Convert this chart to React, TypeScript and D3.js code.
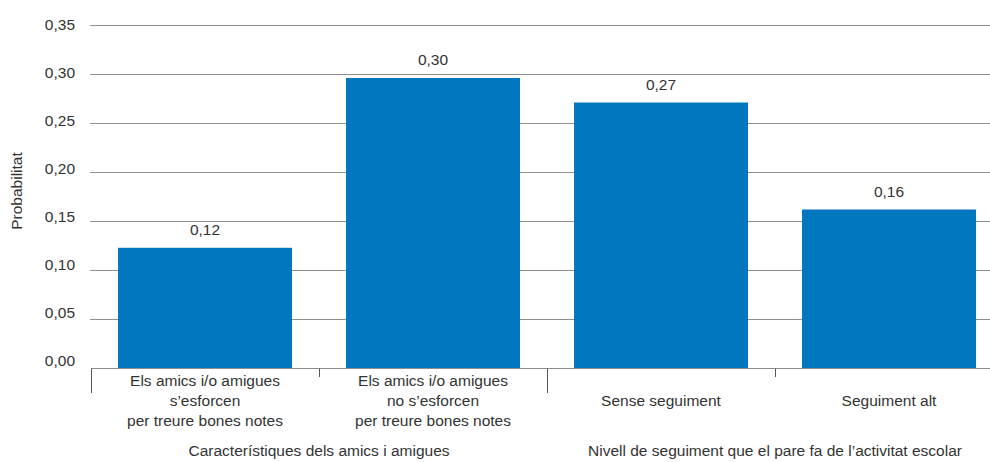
import React from "react";
import * as d3 from "d3";

const categories = ["c1", "c2", "c3", "c4"];
const categoryLabels = [
  ["Els amics i/o amigues", "s\u2019esforcen", "per treure bones notes"],
  ["Els amics i/o amigues", "no s\u2019esforcen", "per treure bones notes"],
  ["Sense seguiment"],
  ["Seguiment alt"],
];
const values = [0.123, 0.296, 0.271, 0.162];
const valueLabels = ["0,12", "0,30", "0,27", "0,16"];
const groupLabels = [
  "Caracter\u00edstiques dels amics i amigues",
  "Nivell de seguiment que el pare fa de l\u2019activitat escolar",
];
const groupSizes = [2, 2];
const yTicks = [0, 0.05, 0.1, 0.15, 0.2, 0.25, 0.3, 0.35];

const W = 990;
const H = 462;
const FONT = "'Liberation Sans', Arial, Helvetica, sans-serif";
const FS = 15.5;
const TEXT = "#333333";
const GRID = "#8e8e8e";
const BAR = "#0077be";

export default function App() {
  const x = d3
    .scaleBand<string>()
    .domain(categories)
    .range([91, 1003])
    .paddingInner(0.237)
    .paddingOuter(0.1185);
  const y = d3.scaleLinear().domain([0, 0.35]).range([368.5, 25]);
  // tick labels sit slightly above their grid lines, with slightly tighter spacing
  const yLab = d3.scaleLinear().domain([0, 0.35]).range([366, 30]);
  const step = x.step();
  const left = 91;
  const fmt = (v: number) => d3.format(".2f")(v).replace(".", ",");

  const groupBounds: { start: number; end: number; label: string }[] = [];
  let idx = 0;
  groupSizes.forEach((n, i) => {
    const start = left + idx * step;
    const end = left + (idx + n) * step;
    groupBounds.push({ start, end, label: groupLabels[i] });
    idx += n;
  });

  return (
    <svg
      width={W}
      height={H}
      style={{ position: "absolute", left: 0, top: 0, background: "#fff" }}
      fontFamily={FONT}
    >
      {yTicks.slice(1).map((t) => (
        <line
          key={t}
          x1={90}
          x2={W}
          y1={Math.round(y(t)) + 0.5}
          y2={Math.round(y(t)) + 0.5}
          stroke={GRID}
          strokeWidth={1.2}
        />
      ))}
      {yTicks.map((t) => (
        <text
          key={"yl" + t}
          x={75}
          y={yLab(t)}
          textAnchor="end"
          fontSize={FS}
          fill={TEXT}
        >
          {fmt(t)}
        </text>
      ))}
      <text
        transform={`translate(22,191) rotate(-90)`}
        textAnchor="middle"
        fontSize={FS}
        fill={TEXT}
      >
        Probabilitat
      </text>
      {categories.map((c, i) => (
        <rect
          key={c}
          x={x(c)}
          y={y(values[i])}
          width={x.bandwidth()}
          height={y(0) - y(values[i])}
          fill={BAR}
        />
      ))}
      {categories.map((c, i) => (
        <text
          key={"v" + c}
          x={(x(c) as number) + x.bandwidth() / 2}
          y={y(values[i]) - 13}
          textAnchor="middle"
          fontSize={FS}
          fill={TEXT}
        >
          {valueLabels[i]}
        </text>
      ))}
      <line x1={91} x2={W} y1={368.5} y2={368.5} stroke={GRID} strokeWidth={1.2} />
      {groupBounds.map((g, i) => (
        <line
          key={"gs" + i}
          x1={Math.round(g.start) + 0.5}
          x2={Math.round(g.start) + 0.5}
          y1={368.5}
          y2={393}
          stroke="#555"
          strokeWidth={1}
        />
      ))}
      {categories.map((c, i) => {
        const bx = left + i * step;
        const isGroupStart = groupBounds.some((g) => Math.abs(g.start - bx) < 1);
        if (isGroupStart) return null;
        return (
          <line
            key={"t" + c}
            x1={Math.round(bx) + 0.5}
            x2={Math.round(bx) + 0.5}
            y1={368.5}
            y2={377}
            stroke="#555"
            strokeWidth={1}
          />
        );
      })}
      {categories.map((c, i) => {
        const cx = (x(c) as number) + x.bandwidth() / 2;
        return (
          <text key={"cl" + c} textAnchor="middle" fontSize={FS} fill={TEXT}>
            {categoryLabels[i].map((ln, j) => (
              <tspan
                key={j}
                x={cx}
                y={categoryLabels[i].length === 1 ? 406 : 386 + j * 20}
              >
                {ln}
              </tspan>
            ))}
          </text>
        );
      })}
      {groupBounds.map((g, i) => (
        <text
          key={"gl" + i}
          x={(g.start + g.end) / 2}
          y={456}
          textAnchor="middle"
          fontSize={FS}
          fill={TEXT}
        >
          {g.label}
        </text>
      ))}
    </svg>
  );
}
